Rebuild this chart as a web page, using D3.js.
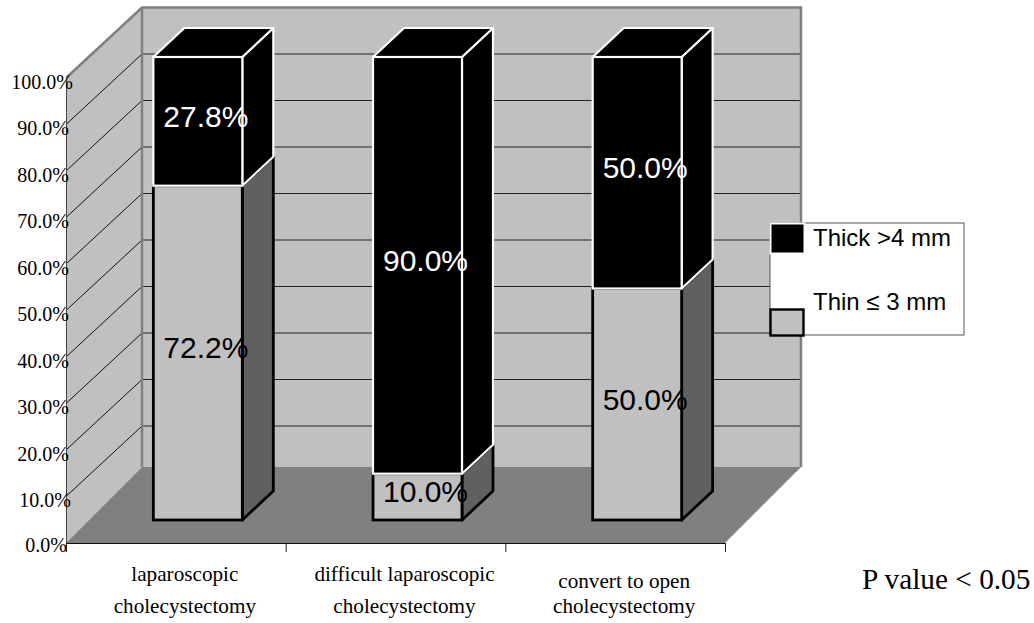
<!DOCTYPE html>
<html>
<head>
<meta charset="utf-8">
<script src="https://cdn.jsdelivr.net/npm/d3@7/dist/d3.min.js"></script>
<style>
  html, body { margin: 0; padding: 0; background: #fff; }
  svg { display: block; }
  .serif { font-family: "Liberation Serif", serif; fill: #000; }
  .sans { font-family: "Liberation Sans", sans-serif; }
</style>
</head>
<body>
<svg id="chart"></svg>
<script>
const categories = ["laparoscopic cholecystectomy", "difficult laparoscopic cholecystectomy", "convert to open cholecystectomy"];
const categoryLines = [
  ["laparoscopic", "cholecystectomy"],
  ["difficult laparoscopic", "cholecystectomy"],
  ["convert to open", "cholecystectomy"]
];
const thinValues = [72.2, 10.0, 50.0];
const thickValues = [27.8, 90.0, 50.0];
const yTicks = [0, 10, 20, 30, 40, 50, 60, 70, 80, 90, 100];
const legendLabels = ["Thick >4 mm", "Thin \u2264 3 mm"];
const pValueNote = "P value < 0.05";

const width = 1034, height = 623;

// front edge of the plot box, and how far the walls sit behind it
const frontLeft = 66, frontRight = 725;
const wallDx = 76, wallDy = -70.5, floorDy = -76;
const barDx = 31, barDy = -29;

const svg = d3.select("#chart").attr("width", width).attr("height", height);

const yScale = d3.scaleLinear().domain([0, 100]).range([543, 78]);
const yBar = d3.scaleLinear().domain([0, 100]).range([520, 57]);
const xEdges = d3.scaleLinear().domain([0, categories.length]).range([frontLeft, frontRight]);
const xBand = d3.scaleBand()
  .domain(categories)
  .range([frontLeft + 22, frontRight + 22])
  .paddingInner(0.595)
  .paddingOuter(0.2975);

const pts = (arr) => arr.map((p) => p.join(",")).join(" ");

// walls and floor
const top100 = yScale(100), base = yScale(0);
const backLeft = frontLeft + wallDx, backRight = frontRight + wallDx;
const backTop = top100 + wallDy, floorBack = base + floorDy;

svg.append("polygon")
  .attr("points", pts([[backLeft, backTop], [backRight, backTop], [backRight, floorBack], [backLeft, floorBack]]))
  .attr("fill", "#c0c0c0");
svg.append("polygon")
  .attr("points", pts([[frontLeft, top100], [backLeft, backTop], [backLeft, floorBack], [frontLeft, base]]))
  .attr("fill", "#c0c0c0");

// gridlines, left wall then back wall
const grid = yTicks.filter((d) => d > 0 && d < 100);
svg.append("g").selectAll("line.side").data(grid).join("line")
  .attr("x1", frontLeft).attr("y1", (d) => yScale(d))
  .attr("x2", backLeft).attr("y2", (d) => yScale(d) + wallDy)
  .attr("stroke", "#111").attr("stroke-width", 1);
svg.append("g").selectAll("line.back").data(grid).join("line")
  .attr("x1", backLeft).attr("y1", (d) => yScale(d) + wallDy)
  .attr("x2", backRight).attr("y2", (d) => yScale(d) + wallDy)
  .attr("stroke", "#222").attr("stroke-width", 1);

svg.append("polygon")
  .attr("points", pts([[backLeft, floorBack], [backRight, floorBack], [frontRight, base], [frontLeft, base]]))
  .attr("fill", "#808080");

// wall outline
svg.append("path")
  .attr("d", `M${frontLeft},${top100}L${backLeft},${backTop}L${backRight},${backTop}L${backRight},${floorBack}`)
  .attr("fill", "none").attr("stroke", "#808080").attr("stroke-width", 2.5);
svg.append("line")
  .attr("x1", backLeft).attr("x2", backLeft).attr("y1", backTop).attr("y2", floorBack)
  .attr("stroke", "#808080").attr("stroke-width", 2.5);

// axes
const yAxis = d3.axisLeft(yScale).tickValues(yTicks).tickSize(0).tickFormat((d) => d3.format(".1f")(d) + "%");
const yAxisG = svg.append("g").attr("transform", `translate(${frontLeft},0)`).call(yAxis);
yAxisG.select(".domain").attr("stroke", "#444").attr("stroke-width", 1);
yAxisG.selectAll("text")
  .attr("class", "serif")
  .attr("font-size", 20)
  .attr("dy", (d) => (d === 0 ? "0.4em" : "0.5em"))
  .attr("x", (d) => (d === 100 ? 7 : d === 10 ? 5 : d === 0 ? 1 : 3));

const xAxis = d3.axisBottom(xEdges).tickValues(d3.range(categories.length + 1)).tickSize(9).tickFormat("");
const xAxisG = svg.append("g").attr("transform", `translate(0,${base})`).call(xAxis);
xAxisG.selectAll("line").attr("stroke", "#222");
xAxisG.select(".domain").attr("stroke", "#111").attr("stroke-width", 1);

// stacked boxes
const rows = categories.map((c, i) => ({ category: c, thin: thinValues[i], thick: thickValues[i] }));
const stacked = d3.stack().keys(["thin", "thick"])(rows);
const styles = {
  thin: { front: "#c0c0c0", side: "#606060", stroke: "#000", lw: 2.8, text: "#000" },
  thick: { front: "#000", side: "#000", stroke: "#fff", lw: 2.2, text: "#fff" }
};

stacked.forEach((layer) => {
  const s = styles[layer.key];
  const g = svg.append("g").attr("class", "layer-" + layer.key);

  g.selectAll("polygon.side").data(layer).join("polygon")
    .attr("class", "side")
    .attr("points", (d) => {
      const r = xBand(d.data.category) + xBand.bandwidth();
      return pts([[r, yBar(d[0])], [r + barDx, yBar(d[0]) + barDy], [r + barDx, yBar(d[1]) + barDy], [r, yBar(d[1])]]);
    })
    .attr("fill", s.side).attr("stroke", s.stroke).attr("stroke-width", s.lw).attr("stroke-linejoin", "round");

  if (layer.key === "thick") {
    g.selectAll("polygon.cap").data(layer).join("polygon")
      .attr("class", "cap")
      .attr("points", (d) => {
        const l = xBand(d.data.category), r = l + xBand.bandwidth(), t = yBar(d[1]);
        return pts([[l, t], [l + barDx, t + barDy], [r + barDx, t + barDy], [r, t]]);
      })
      .attr("fill", s.front).attr("stroke", s.stroke).attr("stroke-width", s.lw).attr("stroke-linejoin", "round");
  }

  g.selectAll("rect").data(layer).join("rect")
    .attr("x", (d) => xBand(d.data.category))
    .attr("y", (d) => yBar(d[1]))
    .attr("width", xBand.bandwidth())
    .attr("height", (d) => yBar(d[0]) - yBar(d[1]))
    .attr("fill", s.front).attr("stroke", s.stroke).attr("stroke-width", s.lw);
});

// value labels go on last so the next segment doesn't cover them
stacked.forEach((layer) => {
  const s = styles[layer.key];
  svg.append("g").selectAll("text").data(layer).join("text")
    .attr("class", "sans")
    .attr("x", (d) => xBand(d.data.category) + xBand.bandwidth() / 2 + 8)
    .attr("y", (d) => (yBar(d[0]) + yBar(d[1])) / 2 - 5)
    .attr("dy", "0.35em")
    .attr("text-anchor", "middle")
    .attr("font-size", 30)
    .attr("fill", s.text)
    .text((d) => d3.format(".1f")(d[1] - d[0]) + "%");
});

// category labels
const catG = svg.append("g").selectAll("g").data(categories).join("g")
  .attr("transform", (d) => `translate(${xBand(d) + xBand.bandwidth() / 2 - 13},0)`);
catG.selectAll("text").data((d, i) => categoryLines[i].map((t, j) => ({ t, j, i }))).join("text")
  .attr("class", "serif")
  .attr("text-anchor", "middle")
  .attr("font-size", 21.2)
  .attr("y", (d) => (d.j === 1 ? 613 : d.i === 2 ? 588 : 581))
  .text((d) => d.t);

// legend
const legend = svg.append("g");
legend.append("rect")
  .attr("x", 770).attr("y", 223).attr("width", 194).attr("height", 112)
  .attr("fill", "#fff").attr("stroke", "#555").attr("stroke-width", 1);
legend.append("rect")
  .attr("x", 770.5).attr("y", 223.5).attr("width", 34).attr("height", 30)
  .attr("fill", "#000").attr("stroke", "#fff").attr("stroke-width", 2);
legend.append("rect")
  .attr("x", 770.5).attr("y", 309.5).attr("width", 33).attr("height", 26)
  .attr("fill", "#c0c0c0").attr("stroke", "#000").attr("stroke-width", 2.4);
legend.selectAll("text").data(legendLabels).join("text")
  .attr("class", "sans")
  .attr("x", 813)
  .attr("y", (d, i) => (i === 0 ? 246 : 310))
  .attr("font-size", 24)
  .attr("fill", "#000")
  .text((d) => d);

svg.append("text")
  .attr("class", "serif")
  .attr("x", 862).attr("y", 589)
  .attr("font-size", 29.3)
  .text(pValueNote);
</script>
</body>
</html>
